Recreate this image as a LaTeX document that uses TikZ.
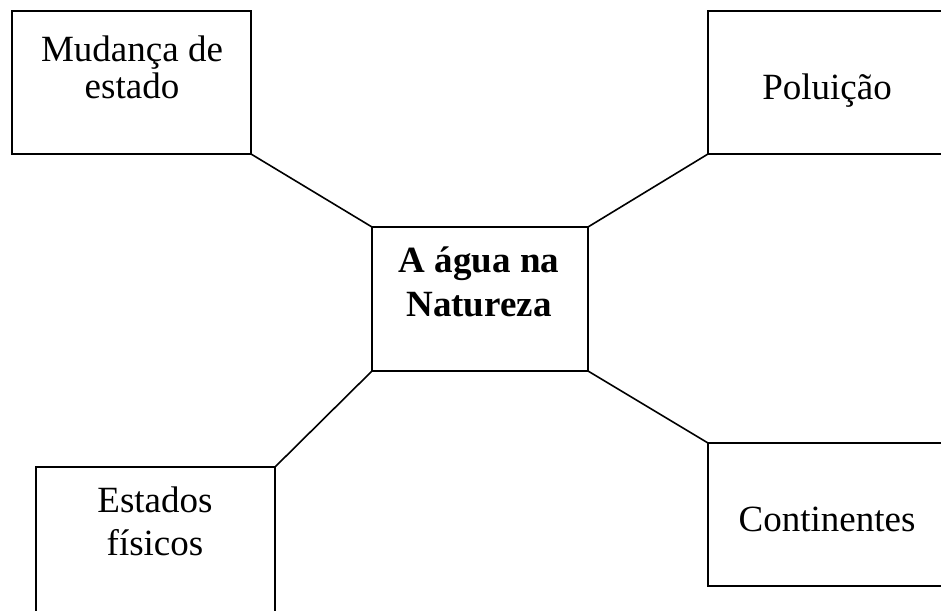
\documentclass[tikz,border=0pt]{standalone}
\usepackage{fontspec}
\setmainfont{Liberation Serif}
\tikzset{
  caixa/.style = {draw, line width=1.9pt, inner sep=0pt, outer sep=0pt},
  rotulo/.style = {align=center, inner sep=0pt, anchor=base,
    font=\fontsize{37}{37}\selectfont},
  linha/.style = {line width=1.6pt}
}
\begin{document}
\begin{tikzpicture}[x=1pt,y=-1pt]
  \useasboundingbox (0,0) rectangle (941,610);
  \clip (0,0) rectangle (941,610);
  % caixas
  \node[caixa, minimum width=239, minimum height=143] (mud)  at (131.5,82.5) {};
  \node[caixa, minimum width=242, minimum height=143] (pol)  at (829,82.5) {};
  \node[caixa, minimum width=216, minimum height=144] (agua) at (480,299) {};
  \node[caixa, minimum width=239, minimum height=153] (est)  at (155.5,543.5) {};
  \node[caixa, minimum width=242, minimum height=143] (cont) at (829,514.5) {};

  % textos (base da ultima linha)
  \node[rotulo] (mudt) at (132,98) {Mudança de\\estado};
  \node[rotulo] (polt) at (827,99) {Poluição};
  \node[rotulo, font=\fontsize{37}{44}\selectfont\bfseries] (aguat) at (479,316)
    {A água na\\Natureza};
  \node[rotulo, font=\fontsize{37}{43}\selectfont] (estt) at (155,555) {Estados\\físicos};
  \node[rotulo] (contt) at (827,531) {Continentes};

  \draw[linha] (mud.south east) -- (agua.north west);
  \draw[linha] (agua.north east) -- (pol.south west);
  \draw[linha] (agua.south west) -- (est.north east);
  \draw[linha] (agua.south east) -- (cont.north west);
\end{tikzpicture}
\end{document}
